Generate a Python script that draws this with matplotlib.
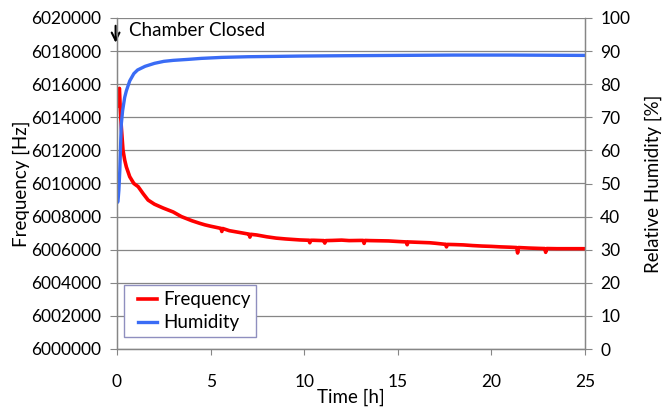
import matplotlib
matplotlib.use("Agg")
import matplotlib.pyplot as plt
from matplotlib.legend_handler import HandlerLine2D

# Frequency trace (Hz)
freq_time = [0.02, 0.06, 0.1, 0.13, 0.17, 0.23, 0.32, 0.41, 0.5, 0.68, 0.9, 1.13,
             1.4, 1.66, 2.0, 2.46, 3.0, 3.44, 4.0, 4.43, 4.7, 5.0, 5.5, 5.55, 5.6,
             5.65, 6.0, 6.5, 7.0, 7.05, 7.1, 7.15, 7.46, 8.0, 8.5, 9.0, 9.77, 10.25,
             10.3, 10.35, 10.5, 11.0, 11.05, 11.1, 11.15, 11.5, 12.0, 12.4, 13.0,
             13.15, 13.2, 13.25, 13.5, 14.0, 14.5, 15.1, 15.45, 15.5, 15.55, 16.0,
             16.7, 17.0, 17.5, 17.55, 17.6, 17.65, 18.0, 18.5, 19.0, 19.5, 20.0,
             20.5, 21.0, 21.35, 21.4, 21.45, 22.0, 22.5, 22.8, 22.85, 22.9, 22.95,
             23.5, 24.0, 24.5, 25.0]
freq_hz = [6014700, 6015000, 6015600, 6015750, 6014600, 6013430, 6012020, 6011420,
           6011000, 6010410, 6010000, 6009810, 6009380, 6009000, 6008750, 6008520,
           6008280, 6008000, 6007750, 6007590, 6007500, 6007420, 6007300, 6007290,
           6007100, 6007280, 6007150, 6007050, 6006950, 6006940, 6006760, 6006930,
           6006890, 6006780, 6006700, 6006650, 6006590, 6006570, 6006420, 6006570,
           6006570, 6006550, 6006550, 6006400, 6006550, 6006560, 6006580, 6006550,
           6006560, 6006560, 6006380, 6006560, 6006550, 6006540, 6006530, 6006490,
           6006470, 6006300, 6006470, 6006450, 6006420, 6006390, 6006330, 6006330,
           6006170, 6006320, 6006310, 6006290, 6006250, 6006220, 6006200, 6006170,
           6006150, 6006130, 6005800, 6006130, 6006100, 6006080, 6006070, 6006070,
           6005840, 6006070, 6006060, 6006060, 6006060, 6006060]

# Relative humidity trace (%)
hum_time = [0.0, 0.05, 0.1, 0.15, 0.2, 0.23, 0.3, 0.41, 0.5, 0.68, 0.9, 1.1, 1.5,
            2.0, 2.5, 3.0, 3.8, 4.5, 5.6, 7.0, 8.5, 9.77, 12.0, 15.0, 18.0, 21.0, 25.0]
hum_pct = [44.2, 44.5, 48.0, 54.0, 63.0, 68.0, 72.0, 76.0, 78.0, 81.0, 83.2, 84.3,
           85.4, 86.3, 86.9, 87.2, 87.5, 87.8, 88.1, 88.3, 88.4, 88.5, 88.6, 88.7,
           88.8, 88.8, 88.7]

freq_ticks = list(range(6000000, 6020001, 2000))
hum_ticks = list(range(0, 101, 10))
time_ticks = [0, 5, 10, 15, 20, 25]

plt.rcParams["font.family"] = ["Lato", "DejaVu Sans"]
plt.rcParams["font.size"] = 12.5
TEXT_SIZE = 13.5
GRAY = "#868686"

fig = plt.figure(figsize=(6.62, 4.07), dpi=100)
ax = fig.add_axes([117 / 662, 1 - 349 / 407, 468 / 662, 331 / 407])
ax2 = ax.twinx()

l1, = ax.plot(freq_time, freq_hz, color="#ff0000", lw=2.6, label="Frequency")
l2, = ax2.plot(hum_time, hum_pct, color="#3a6cf5", lw=2.4, label="Humidity")

ax.set_xlim(0, 25)
ax.set_ylim(6000000, 6020000)
ax2.set_ylim(0, 100)
ax.set_xticks(time_ticks)
ax.set_yticks(freq_ticks)
ax.set_yticklabels([str(v) for v in freq_ticks])
ax2.set_yticks(hum_ticks)

ax.grid(axis="y", color=GRAY, lw=0.9)
ax.set_axisbelow(True)
for a in (ax, ax2):
    for side, sp in a.spines.items():
        sp.set_color(GRAY)
        sp.set_linewidth(0.9)
        if side == "top":
            sp.set_visible(False)
ax.tick_params(axis="x", direction="out", length=4.5, color=GRAY, pad=13.5)
ax.tick_params(axis="y", direction="out", length=5, color=GRAY, pad=6.5)
ax2.tick_params(axis="y", direction="out", length=5, color=GRAY, pad=6)

ax.set_xlabel("Time [h]", labelpad=-1, fontsize=TEXT_SIZE)
ax.set_ylabel("Frequency [Hz]", labelpad=1, fontsize=TEXT_SIZE)
ax2.set_ylabel("Relative Humidity [%]", labelpad=10, fontsize=TEXT_SIZE)

ax.annotate("", xy=(-0.003, 0.917), xytext=(-0.003, 0.985), xycoords="axes fraction",
            arrowprops=dict(arrowstyle="->", color="black", lw=1.5,
                            mutation_scale=14), annotation_clip=False)
ax.text(0.026, 0.962, "Chamber Closed", transform=ax.transAxes, va="center",
        ha="left", fontsize=TEXT_SIZE)

# handle drawn a little to the right of the frame edge, like the original
hm = {l1: HandlerLine2D(xpad=0.43), l2: HandlerLine2D(xpad=0.43)}
leg = ax2.legend([l1, l2], ["Frequency", "Humidity"], loc="lower left",
                 bbox_to_anchor=(0.015, 0.036), borderaxespad=0, fancybox=False,
                 handlelength=1.44, handletextpad=0.32, labelspacing=0.3,
                 borderpad=0.32, framealpha=1, fontsize=TEXT_SIZE, handler_map=hm)
leg.get_frame().set_edgecolor("#8f8fbf")
leg.get_frame().set_linewidth(1)

fig.savefig("out.png", dpi=100)
